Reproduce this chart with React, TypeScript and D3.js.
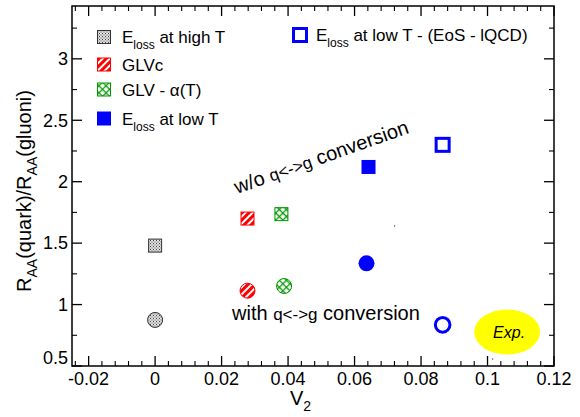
import React from "react";
import * as d3 from "d3";

const W = 580;
const H = 417;

const xDomain = [-0.025, 0.12];
const yDomain = [0.5, 3.43];
const xTicks = [-0.02, 0, 0.02, 0.04, 0.06, 0.08, 0.1, 0.12];
const xTickLabels = ["-0.02", "0", "0.02", "0.04", "0.06", "0.08", "0.1", "0.12"];
const yTicks = [0.5, 1, 1.5, 2, 2.5, 3];
const yTickLabels = ["0.5", "1", "1.5", "2", "2.5", "3"];
const xMinorStep = 0.004;
const yMinorStep = 0.25;

// Series order: Eloss high T, GLVc, GLV-alpha(T), Eloss low T, Eloss low T (EoS-lQCD)
const seriesKeys = ["highT", "glvc", "glva", "lowT", "eos"];
const withoutConvV2 = [0.0, 0.0278, 0.038, 0.0642, 0.0865];
const withoutConvRatio = [1.48, 1.7, 1.736, 2.12, 2.3];
const withConvV2 = [0.0, 0.0278, 0.0388, 0.0636, 0.0865];
const withConvRatio = [0.875, 1.113, 1.151, 1.336, 0.835];

const legendLabels = ["at high T", "GLVc", "GLV - α(T)", "at low T", "at low T - (EoS - lQCD)"];
const expPoint = { v2: 0.1059, ratio: 0.777 };
const specksV2 = [0.0719, 0.1014];
const specksRatio = [1.64, 0.557];

const FONT = "'Liberation Sans', Arial, Helvetica, sans-serif";

const styleFor: Record<string, { fill: string; stroke: string; sw: number }> = {
  highT: { fill: "url(#patGray)", stroke: "#333", sw: 1 },
  glvc: { fill: "url(#patRed)", stroke: "#ff0000", sw: 1 },
  glva: { fill: "url(#patGreen)", stroke: "#009900", sw: 1 },
  lowT: { fill: "#0000ff", stroke: "none", sw: 0 },
  eos: { fill: "#ffffff", stroke: "#0000ff", sw: 3 },
};

function Square({ cx, cy, k }: { cx: number; cy: number; k: string }) {
  const s = styleFor[k];
  const size = k === "eos" ? 13 : 14;
  const inset = s.sw === 1 ? 0.5 : 0;
  return (
    <rect
      x={cx - size / 2 + inset}
      y={cy - size / 2 + inset}
      width={size - 2 * inset}
      height={size - 2 * inset}
      fill={s.fill}
      stroke={s.stroke}
      strokeWidth={s.sw}
    />
  );
}

function Circle({ cx, cy, k }: { cx: number; cy: number; k: string }) {
  const s = styleFor[k];
  const r = k === "eos" ? 7.3 : k === "lowT" ? 8 : 7.5;
  return <circle cx={cx} cy={cy} r={r} fill={s.fill} stroke={s.stroke} strokeWidth={s.sw} />;
}

export default function App() {
  const left = 72;
  const right = 554;
  const top = 6;
  const bottom = 366;
  const x = d3.scaleLinear().domain(xDomain).range([left, right]);
  const y = d3.scaleLinear().domain(yDomain).range([bottom, top]);

  const xMinor = d3
    .range(-0.024, 0.1201, xMinorStep)
    .filter((v) => !xTicks.some((t) => Math.abs(t - v) < 1e-6));
  const yMinor = d3
    .range(0.5, 3.43, yMinorStep)
    .filter((v) => !yTicks.some((t) => Math.abs(t - v) < 1e-6));

  const major = 10;
  const minor = 5;

  const legendRows = [37, 64.5, 89.5, 118.5];

  return (
    <svg
      width={W}
      height={H}
      style={{ position: "absolute", left: 0, top: 0, background: "#fff" }}
      fontFamily={FONT}
    >
      <defs>
        <pattern id="patGray" width="3" height="3" patternUnits="userSpaceOnUse">
          <rect width="3" height="3" fill="#d8d8d8" />
          <rect x="0" y="0" width="1" height="1" fill="#444" />
          <rect x="1.5" y="1.5" width="1" height="1" fill="#666" />
          <rect x="1.5" y="0" width="1" height="1" fill="#f4f4f4" />
        </pattern>
        <pattern
          id="patRed"
          width="5"
          height="5"
          patternUnits="userSpaceOnUse"
          patternTransform="rotate(45)"
        >
          <rect width="5" height="5" fill="#ffffff" />
          <rect width="3" height="5" fill="#ff0000" />
        </pattern>
        <pattern
          id="patGreen"
          width="5"
          height="5"
          patternUnits="userSpaceOnUse"
          patternTransform="rotate(45)"
        >
          <rect width="5" height="5" fill="#ffffff" />
          <rect width="1.3" height="5" fill="#0a9a0a" />
          <rect width="5" height="1.3" fill="#0a9a0a" />
        </pattern>
      </defs>

      {/* Frame */}
      <rect
        x={left}
        y={top}
        width={right - left}
        height={bottom - top}
        fill="none"
        stroke="#000"
        strokeWidth={1.5}
      />

      {/* X ticks (bottom & top) */}
      {xTicks.map((t) => (
        <g key={"xt" + t}>
          <line x1={x(t)} x2={x(t)} y1={bottom} y2={bottom - major} stroke="#000" strokeWidth={1.3} />
          <line x1={x(t)} x2={x(t)} y1={top} y2={top + major} stroke="#000" strokeWidth={1.3} />
        </g>
      ))}
      {xMinor.map((t) => (
        <g key={"xm" + t}>
          <line x1={x(t)} x2={x(t)} y1={bottom} y2={bottom - minor} stroke="#000" strokeWidth={1.1} />
          <line x1={x(t)} x2={x(t)} y1={top} y2={top + minor} stroke="#000" strokeWidth={1.1} />
        </g>
      ))}
      {/* Y ticks (left & right) */}
      {yTicks.map((t) => (
        <g key={"yt" + t}>
          <line x1={left} x2={left + major} y1={y(t)} y2={y(t)} stroke="#000" strokeWidth={1.3} />
          <line x1={right} x2={right - major} y1={y(t)} y2={y(t)} stroke="#000" strokeWidth={1.3} />
        </g>
      ))}
      {yMinor.map((t) => (
        <g key={"ym" + t}>
          <line x1={left} x2={left + minor} y1={y(t)} y2={y(t)} stroke="#000" strokeWidth={1.1} />
          <line x1={right} x2={right - minor} y1={y(t)} y2={y(t)} stroke="#000" strokeWidth={1.1} />
        </g>
      ))}

      {/* Tick labels */}
      {xTicks.map((t, i) => (
        <text key={"xl" + t} x={x(t)} y={385} textAnchor="middle" fontSize={18} fill="#000">
          {xTickLabels[i]}
        </text>
      ))}
      {yTicks.map((t, i) => (
        <text
          key={"yl" + t}
          x={68}
          y={y(t) + (i === 0 ? -8 : 0)}
          dy="0.35em"
          textAnchor="end"
          fontSize={18}
          fill="#000"
        >
          {yTickLabels[i]}
        </text>
      ))}

      {/* Axis titles */}
      <text x={290} y={405} fontSize={20} fill="#000" style={{ whiteSpace: "pre" }}>
        <tspan>V</tspan>
        <tspan fontSize={14} dy={6}>2</tspan>
      </text>
      <text
        transform="translate(31,191) rotate(-90)"
        textAnchor="middle"
        fontSize={20}
        fill="#000"
        style={{ whiteSpace: "pre" }}
      >
        <tspan>R</tspan>
        <tspan fontSize={14} dy={6}>AA</tspan>
        <tspan dy={-6}>(quark)/R</tspan>
        <tspan fontSize={14} dy={6}>AA</tspan>
        <tspan dy={-6}>(gluoni)</tspan>
      </text>

      {/* Specks */}
      {specksV2.map((v, i) => (
        <rect key={"sp" + i} x={x(v)} y={y(specksRatio[i]) - 1} width={1} height={2} fill="#777" />
      ))}

      {/* Exp ellipse */}
      <ellipse cx={x(expPoint.v2)} cy={y(expPoint.ratio)} rx={33} ry={22.5} fill="#ffff00" />
      <text
        x={x(expPoint.v2) + 2}
        y={y(expPoint.ratio) + 6}
        textAnchor="middle"
        fontSize={16}
        fontStyle="italic"
        fill="#000"
      >
        Exp.
      </text>

      {/* Data: without conversion (squares) */}
      {seriesKeys.map((k, i) => (
        <Square key={"sq" + k} cx={x(withoutConvV2[i])} cy={y(withoutConvRatio[i])} k={k} />
      ))}
      {/* Data: with conversion (circles) */}
      {seriesKeys.map((k, i) => (
        <Circle key={"ci" + k} cx={x(withConvV2[i])} cy={y(withConvRatio[i])} k={k} />
      ))}

      {/* Annotations */}
      <text
        transform="translate(237,194) rotate(-19.5)"
        fontSize={20}
        fill="#000"
        style={{ whiteSpace: "pre" }}
      >
        <tspan>w/o </tspan>
        <tspan fontSize={17}>q&lt;-&gt;g</tspan>
        <tspan> conversion</tspan>
      </text>
      <text x={232} y={320} fontSize={20} fill="#000" style={{ whiteSpace: "pre" }}>
        <tspan>with </tspan>
        <tspan fontSize={17}>q&lt;-&gt;g</tspan>
        <tspan> conversion</tspan>
      </text>

      {/* Legend left */}
      {seriesKeys.slice(0, 4).map((k, i) => (
        <g key={"lg" + k}>
          <Square cx={104} cy={legendRows[i]} k={k} />
          {k === "highT" || k === "lowT" ? (
            <text x={122} y={legendRows[i] + 6} fontSize={17} fill="#000" style={{ whiteSpace: "pre" }}>
              <tspan>E</tspan>
              <tspan fontSize={12} dy={6}>loss</tspan>
              <tspan dy={-6}>{" " + legendLabels[i]}</tspan>
            </text>
          ) : (
            <text x={122} y={legendRows[i] + 6} fontSize={17} fill="#000">
              {legendLabels[i]}
            </text>
          )}
        </g>
      ))}
      {/* Legend right */}
      <Square cx={300} cy={35} k="eos" />
      <text x={316} y={41} fontSize={17} fill="#000" style={{ whiteSpace: "pre" }}>
        <tspan>E</tspan>
        <tspan fontSize={12} dy={6}>loss</tspan>
        <tspan dy={-6}>{" " + legendLabels[4]}</tspan>
      </text>
    </svg>
  );
}
